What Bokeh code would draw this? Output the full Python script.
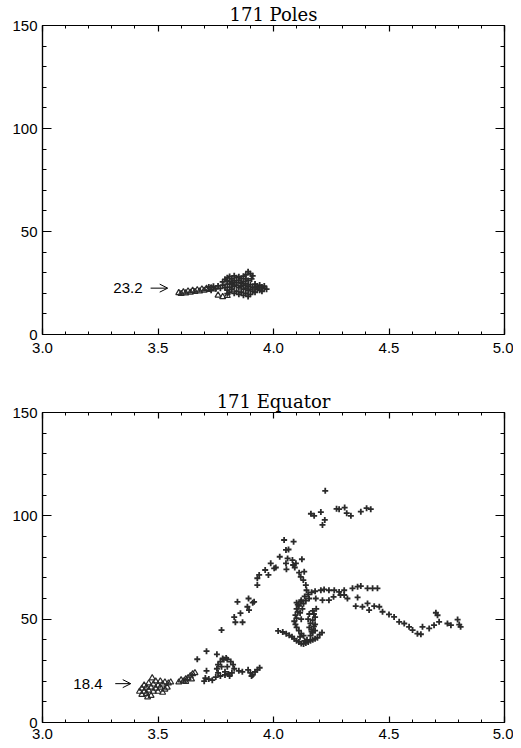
from bokeh.plotting import figure
from bokeh.models import LinearAxis, Range1d, Label, Arrow, OpenHead, SingleIntervalTicker, NumeralTickFormatter
from bokeh.layouts import column
from bokeh.embed import file_html
from bokeh.resources import INLINE

# ---------------- data: 171 Poles ----------------
pole_tri_x = [3.59, 3.60, 3.61, 3.62, 3.63, 3.64, 3.65, 3.66, 3.67, 3.68, 3.69, 3.70,
              3.71, 3.72, 3.73, 3.74, 3.76, 3.78, 3.80]
pole_tri_y = [20.2, 19.8, 20.6, 20.1, 21.0, 20.4, 21.3, 20.8, 21.6, 21.0, 22.0, 21.4,
              22.3, 21.8, 22.6, 22.0, 19.0, 18.3, 18.8]

pole_x = [3.72, 3.73, 3.74, 3.75, 3.76, 3.77, 3.78, 3.79, 3.80, 3.80,
          3.78, 3.79, 3.80, 3.81, 3.82, 3.83, 3.84, 3.85, 3.86, 3.87, 3.88, 3.89,
          3.81, 3.82, 3.83, 3.84, 3.85, 3.86, 3.87, 3.88, 3.80,
          3.89, 3.90, 3.91, 3.905, 3.88,
          3.81, 3.82, 3.83, 3.84, 3.85, 3.86, 3.87, 3.88, 3.89, 3.90, 3.91, 3.92, 3.93,
          3.94, 3.95, 3.96, 3.97, 3.95, 3.93, 3.91, 3.89, 3.87, 3.90, 3.92, 3.94, 3.96,
          3.86, 3.84, 3.82, 3.88, 3.90, 3.92, 3.94, 3.83, 3.85, 3.87, 3.89, 3.81, 3.80]
pole_y = [23.0, 21.5, 23.4, 22.2, 23.6, 22.4, 24.0, 22.8, 24.5, 21.5,
          25.5, 26.8, 27.5, 28.2, 27.0, 28.5, 27.6, 28.0, 27.2, 28.3, 27.0, 26.2,
          25.8, 25.0, 26.0, 25.2, 26.3, 25.0, 25.8, 24.6, 26.0,
          30.5, 29.5, 28.5, 27.0, 29.0,
          23.0, 22.0, 23.5, 21.0, 22.8, 20.5, 22.0, 20.0, 21.5, 19.5, 21.0, 20.5, 22.0,
          21.5, 23.0, 22.5, 22.0, 21.0, 23.5, 23.0, 23.5, 24.0, 24.2, 24.5, 24.0, 23.5,
          23.5, 24.0, 24.2, 22.5, 22.0, 22.8, 22.6, 20.0, 19.5, 19.0, 18.5, 20.5, 19.8]

# ---------------- data: 171 Equator ----------------
eq_tri_x = [3.42, 3.43, 3.43, 3.44, 3.44, 3.45, 3.45, 3.46, 3.46, 3.47,
            3.47, 3.475, 3.48, 3.48, 3.49, 3.49, 3.50, 3.50, 3.51, 3.51,
            3.52, 3.52, 3.53, 3.53, 3.54, 3.545, 3.555, 3.455,
            3.59, 3.60, 3.61, 3.62, 3.63, 3.64, 3.65, 3.66, 3.62, 3.645]
eq_tri_y = [15, 13.5, 16.5, 15, 18, 14, 17, 15.5, 19, 13,
            17, 21.5, 15, 18.5, 16.5, 20, 15, 18, 17, 20,
            14.5, 18.5, 16, 19.5, 17, 19, 19.5, 12.3,
            19.5, 20.5, 20, 21, 21.5, 22.5, 23.5, 24, 19.8, 21]

eq_low_x = [3.67, 3.71, 3.755, 3.71, 3.70, 3.705, 3.72, 3.735, 3.75, 3.77, 3.79, 3.81,
            3.76, 3.755, 3.76, 3.77, 3.785, 3.80, 3.815, 3.825, 3.83, 3.82, 3.805,
            3.775, 3.80, 3.79, 3.78, 3.795,
            3.85, 3.865, 3.89, 3.90, 3.91, 3.92, 3.93, 3.94, 3.905]
eq_low_y = [30.6, 34.5, 33.0, 25.0, 20.0, 21.5, 21.0, 20.5, 22.0, 22.5, 23.0, 22.5,
            24.0, 26.0, 28.0, 29.5, 30.5, 30.5, 29.5, 28.0, 26.0, 24.0, 23.5,
            27.0, 27.0, 24.5, 31.0, 31.2,
            25.0, 24.5, 25.5, 24.0, 23.0, 24.5, 25.5, 26.5, 22.5]

eq_rise_x = [3.775, 3.83, 3.835, 3.857, 3.866, 3.844, 3.887, 3.91, 3.892, 3.916, 3.894,
             3.93, 3.93, 3.938, 3.964, 3.978, 4.003, 4.01, 3.988, 4.027, 4.046, 4.087,
             4.054, 4.065, 4.061, 4.082, 4.097, 4.123, 4.054, 4.056, 4.085, 4.092,
             4.111, 4.133, 4.118, 4.129, 4.14, 4.143]
eq_rise_y = [44.7, 51.0, 48.5, 52.9, 48.5, 58.4, 56.0, 58.0, 60.0, 58.4, 54.4,
             66.5, 69.8, 71.4, 73.8, 71.4, 74.6, 75.0, 77.0, 80.2, 88.3, 87.5,
             83.5, 83.7, 79.4, 78.6, 77.0, 79.0, 77.0, 74.1, 76.2, 75.0,
             72.5, 73.0, 70.5, 68.9, 66.5, 64.0]

eq_top_x = [4.224, 4.162, 4.176, 4.205, 4.222, 4.212, 4.273, 4.284, 4.308, 4.317,
            4.335, 4.378, 4.403, 4.421]
eq_top_y = [112.1, 101.0, 100.0, 101.8, 98.0, 95.6, 103.4, 103.2, 104.0, 101.3,
            100.0, 102.0, 103.7, 103.2]

eq_loop_x = [4.10, 4.11, 4.10, 4.105, 4.095, 4.10, 4.09, 4.095, 4.10, 4.11, 4.12, 4.13,
             4.115, 4.12, 4.115, 4.125, 4.105, 4.13, 4.12,
             4.08, 4.09, 4.10, 4.11, 4.12, 4.13, 4.14, 4.15, 4.16, 4.17, 4.18, 4.19,
             4.20, 4.21, 4.135, 4.145,
             4.16, 4.17, 4.165, 4.175, 4.16, 4.17, 4.18, 4.175, 4.165, 4.155, 4.18,
             4.17, 4.185, 4.15, 4.155, 4.18,
             4.02, 4.04, 4.055, 4.068]
eq_loop_y = [58.0, 56.5, 55.0, 53.5, 52.0, 50.5, 49.0, 47.5, 46.0, 44.5, 43.0, 42.0,
             41.5, 50.0, 53.0, 55.0, 57.0, 57.5, 59.2,
             41.5, 40.5, 39.5, 39.0, 38.2, 38.0, 38.5, 39.0, 39.5, 40.0, 40.5, 41.0,
             42.5, 43.5, 39.5, 40.0,
             42.0, 43.5, 45.0, 46.5, 48.0, 49.5, 51.0, 52.5, 44.0, 46.0, 47.5,
             54.0, 55.0, 50.0, 52.5, 44.5,
             44.3, 43.8, 43.0, 42.2]

eq_arc_x = [4.135, 4.15, 4.165, 4.18, 4.205, 4.219, 4.24, 4.263, 4.284, 4.306, 4.342,
            4.364, 4.378, 4.407, 4.429, 4.45,
            4.118, 4.154, 4.183, 4.212, 4.24, 4.26, 4.29, 4.306, 4.32, 4.14,
            4.364, 4.356, 4.385, 4.407, 4.414, 4.436, 4.458, 4.472, 4.50, 4.522,
            4.544, 4.566, 4.587, 4.602, 4.623, 4.638, 4.645, 4.674, 4.695, 4.717,
            4.71, 4.703, 4.753, 4.768, 4.797, 4.81, 4.804]
eq_arc_y = [61.0, 62.0, 63.0, 63.5, 64.0, 64.4, 64.0, 64.0, 63.2, 64.0, 64.9,
            65.7, 66.0, 64.9, 64.9, 64.9,
            58.4, 60.0, 60.0, 59.2, 59.2, 60.8, 61.7, 61.7, 60.0, 59.0,
            60.5, 56.3, 56.0, 57.6, 54.4, 56.3, 56.0, 53.6, 52.3, 51.1,
            48.7, 47.9, 46.3, 44.7, 43.0, 42.7, 46.3, 45.5, 47.1, 48.7,
            51.9, 53.1, 47.9, 47.1, 49.8, 46.3, 47.4]

pole_note = "23.2"
eq_note = "18.4"

INK = "#2a2a2a"
TICK_FONT = "Liberation Sans"


def style_axis(ax, is_x, show_labels):
    ax.ticker = SingleIntervalTicker(interval=0.5 if is_x else 50, num_minor_ticks=5)
    ax.axis_line_color = "black"
    ax.axis_line_width = 1.2
    ax.major_tick_line_color = "black"
    ax.minor_tick_line_color = "black"
    ax.major_tick_line_width = 1.2
    ax.minor_tick_line_width = 1
    ax.major_tick_out = 0
    ax.minor_tick_out = 0
    ax.major_tick_in = 6 if is_x else 9
    ax.minor_tick_in = 3 if is_x else 4
    if is_x:
        ax.formatter = NumeralTickFormatter(format="0.0")
    if show_labels:
        ax.major_label_text_font = TICK_FONT
        ax.major_label_text_font_size = "15px"
        ax.major_label_text_color = "black"
        ax.major_label_standoff = 8 if is_x else 5
    else:
        ax.major_label_text_font_size = "1px"
        ax.major_label_text_color = None
        ax.major_label_standoff = 0


def make_fig(title, frame_h, mb_left, mb_right, mb_top, mb_bottom, x_standoff):
    p = figure(frame_width=462, frame_height=frame_h,
               x_range=Range1d(3, 5), y_range=Range1d(0, 150),
               output_backend="svg", toolbar_location=None,
               min_border_left=mb_left, min_border_right=mb_right,
               min_border_top=mb_top, min_border_bottom=mb_bottom,
               title=title)
    p.grid.visible = False
    p.outline_line_color = "black"
    p.outline_line_width = 1.2
    p.background_fill_color = "white"
    p.border_fill_color = "white"
    p.title.text_font = "DejaVu Serif"
    p.title.text_font_size = "18px"
    p.title.text_font_style = "normal"
    p.title.text_color = "black"
    p.title.align = "center"
    p.title.standoff = 2
    style_axis(p.xaxis[0], True, True)
    p.xaxis[0].major_label_standoff = x_standoff
    style_axis(p.yaxis[0], False, True)
    top = LinearAxis()
    style_axis(top, True, False)
    p.add_layout(top, "above")
    right = LinearAxis()
    style_axis(right, False, False)
    p.add_layout(right, "right")
    return p


def note(p, txt, xt, xa0, xa1, y):
    p.add_layout(Label(x=xt, y=y, text=txt, text_align="right", text_baseline="middle",
                       text_font=TICK_FONT, text_font_size="15px", text_color="black"))
    p.add_layout(Arrow(x_start=xa0, y_start=y, x_end=xa1, y_end=y, line_width=1,
                       line_color="black",
                       end=OpenHead(size=8, line_width=1, line_color="black")))


p1 = make_fig("171 Poles", 309, 42, 9, 25, 30, 8)
p1.scatter(pole_tri_x, pole_tri_y, marker="triangle", size=6, fill_color=None,
           line_color=INK, line_width=1.2)
p1.scatter(pole_x, pole_y, marker="cross", size=6, line_color=INK, line_width=1.8)
note(p1, pole_note, 3.433, 3.468, 3.542, 22.5)

p2 = make_fig("171 Equator", 310, 40, 11, 48, 24, 6)
p2.scatter(eq_tri_x, eq_tri_y, marker="triangle", size=6, fill_color=None,
           line_color=INK, line_width=1.2)
for xs, ys in [(eq_low_x, eq_low_y), (eq_rise_x, eq_rise_y), (eq_top_x, eq_top_y),
               (eq_loop_x, eq_loop_y), (eq_arc_x, eq_arc_y)]:
    p2.scatter(xs, ys, marker="cross", size=6, line_color=INK, line_width=1.8)
note(p2, eq_note, 3.26, 3.315, 3.382, 18.8)

layout = column(p1, p2, spacing=0)
open("out.html", "w").write(file_html(layout, INLINE))
